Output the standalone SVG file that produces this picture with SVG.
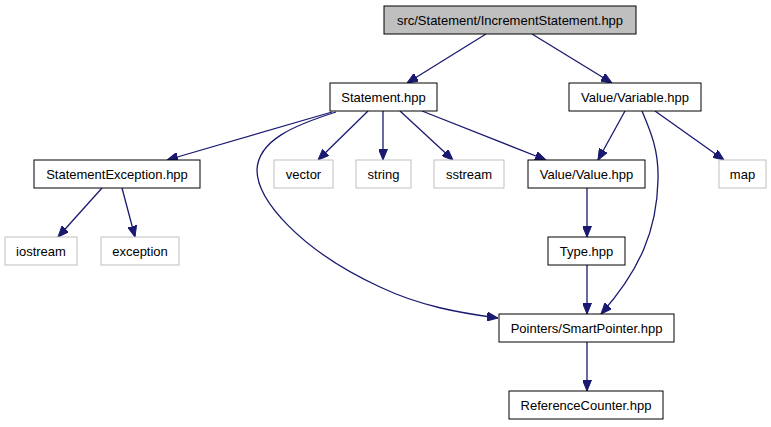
<svg xmlns="http://www.w3.org/2000/svg" width="771" height="427" viewBox="0 0 771 427">
<style>
.n rect{fill:#fff;stroke:#000;stroke-width:1}
.g rect{fill:#fff;stroke:#bfbfbf;stroke-width:1}
.root rect{fill:#bfbfbf;stroke:#000;stroke-width:1}
text{font-family:"Liberation Sans",Arial,sans-serif;font-size:13px;fill:#000;text-anchor:middle}
.e path{fill:none;stroke:#191970;stroke-width:1.3;marker-end:url(#a)}
</style>
<defs>
<marker id="a" markerUnits="userSpaceOnUse" markerWidth="11" markerHeight="9" refX="11" refY="4.5" orient="auto">
<path d="M0,0 L11,4.5 L0,9 z" fill="#191970" stroke="#191970" stroke-width="1"/>
</marker>
</defs>
<rect width="771" height="427" fill="#fff"/>
<g class="e" id="edges">
<path d="M486,34 L407,83"/>
<path d="M532,34 L612,83"/>
<path d="M332,112 L167,160"/>
<path d="M336,112 C295,125 258,140 257,170 C257,200 300,250 380,287 C420,306 460,313 498,318"/>
<path d="M368,111 L318,160"/>
<path d="M383,111 L383,160"/>
<path d="M400,111 L453,160"/>
<path d="M422,111 L546,160"/>
<path d="M625,111 L598,160"/>
<path d="M655,111 L724,160"/>
<path d="M642,111 C650,130 659,150 658,180 C657,230 640,270 601,314"/>
<path d="M587,188 L587,237"/>
<path d="M587,265 L587,314"/>
<path d="M587,342 L587,391"/>
<path d="M102,188 L58,237"/>
<path d="M122,188 L135,237"/>
</g>
<g id="n-root" class="root"><rect x="384" y="6" width="252" height="28"/><text x="510" y="25">src/Statement/IncrementStatement.hpp</text></g>
<g id="n-statement" class="n"><rect x="330" y="83" width="107" height="28"/><text x="383.5" y="102">Statement.hpp</text></g>
<g id="n-variable" class="n"><rect x="569" y="83" width="132" height="28"/><text x="635" y="102">Value/Variable.hpp</text></g>
<g id="n-stmtexc" class="n"><rect x="34" y="160" width="166" height="28"/><text x="117" y="179">StatementException.hpp</text></g>
<g id="n-vector" class="g"><rect x="274" y="160" width="59" height="28"/><text x="303.5" y="179">vector</text></g>
<g id="n-string" class="g"><rect x="356" y="160" width="55" height="28"/><text x="383.5" y="179">string</text></g>
<g id="n-sstream" class="g"><rect x="434" y="160" width="70" height="28"/><text x="469" y="179">sstream</text></g>
<g id="n-value" class="n"><rect x="528" y="160" width="117" height="28"/><text x="586.5" y="179">Value/Value.hpp</text></g>
<g id="n-map" class="g"><rect x="719" y="160" width="47" height="28"/><text x="742.5" y="179">map</text></g>
<g id="n-iostream" class="g"><rect x="5" y="237" width="72" height="28"/><text x="41" y="256">iostream</text></g>
<g id="n-exception" class="g"><rect x="101" y="237" width="78" height="28"/><text x="140" y="256">exception</text></g>
<g id="n-type" class="n"><rect x="548" y="237" width="77" height="28"/><text x="586.5" y="256">Type.hpp</text></g>
<g id="n-smartptr" class="n"><rect x="499" y="314" width="175" height="28"/><text x="586.5" y="333">Pointers/SmartPointer.hpp</text></g>
<g id="n-refcount" class="n"><rect x="509" y="391" width="154" height="28"/><text x="586" y="410">ReferenceCounter.hpp</text></g>
</svg>
